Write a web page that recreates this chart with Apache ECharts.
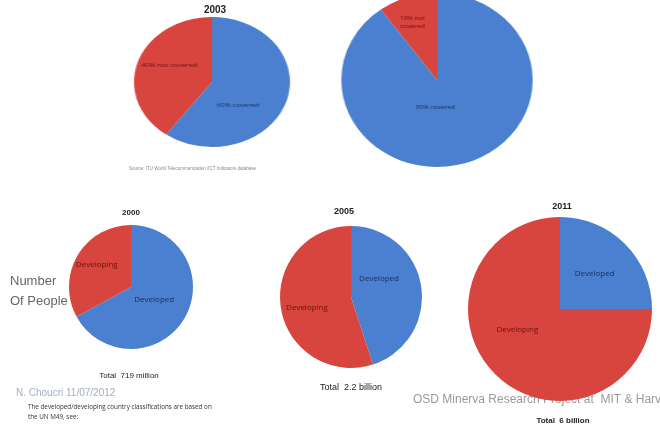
<!DOCTYPE html>
<html>
<head>
<meta charset="utf-8">
<script src="https://cdn.jsdelivr.net/npm/echarts@6/dist/echarts.min.js"></script>
<style>
html,body{margin:0;padding:0;background:#fff;}
#wrap{position:relative;width:660px;height:428px;overflow:hidden;}
#chart{position:absolute;left:0;top:0;width:660px;height:428px;}
.over{position:absolute;left:0;top:0;width:660px;height:428px;pointer-events:none;}
</style>
</head>
<body>
<div id="wrap">
<div id="chart"></div>
<div id="topA" class="over"></div>
<div id="topB" class="over"></div>
</div>
<script>
// ---- data ----
const coverageCategories = ['covered', 'not covered'];
const coverage2003A = [60, 40];          // % of people covered (left top pie)
const coverage2003B = [90, 10];          // % of people covered (right top pie)
const userCategories = ['Developed', 'Developing'];
const years = ['2000', '2005', '2011'];
const users2000 = [482, 237];            // millions
const users2005 = [990, 1210];           // millions
const users2011 = [1500, 4500];          // millions
const totalLabels = ['Total  719 million', 'Total  2.2 billion', 'Total  6 billion'];
const topTitle = '2003';

// ---- styles ----
const BLUE = '#4b80d0';
const RED = '#d8443e';
const BLUE_TXT = '#16305c';
const RED_TXT = '#6a1212';
const FONT = 'Open Sans, Liberation Sans, sans-serif';

function coverageData(vals, breakLine) {
  return vals.map((v, i) => ({
    name: coverageCategories[i],
    value: v,
    itemStyle: { color: i === 0 ? BLUE : RED },
    label: {
      color: i === 0 ? BLUE_TXT : RED_TXT,
      formatter: v + '% ' + (breakLine && i === 1 ? 'not\ncovered' : coverageCategories[i])
    }
  }));
}
function usersData(vals) {
  return vals.map((v, i) => ({
    name: userCategories[i],
    value: v,
    itemStyle: { color: i === 0 ? BLUE : RED },
    label: { color: i === 0 ? BLUE_TXT : RED_TXT }
  }));
}

function makePie(data, L) {
  return {
    type: 'pie',
    center: L.center,
    radius: [0, L.r],
    startAngle: 90,
    clockwise: true,
    animation: false,
    silent: true,
    avoidLabelOverlap: false,
    label: {
      show: true,
      position: 'inside',
      fontSize: L.fs,
      fontFamily: FONT,
      lineHeight: L.fs + 2
    },
    labelLine: { show: false },
    labelLayout: function (p) {
      const o = L.off[p.dataIndex];
      return { dx: o[0], dy: o[1] };
    },
    itemStyle: { borderWidth: 0 },
    data: data
  };
}

// layout (style only); top pies are stretched horizontally via CSS like the slide
const layoutA = { center: [212, 82], r: 65, fs: 6, sx: 1.2, off: [[-12, 12], [-2, -6]] };
const layoutB = { center: [437, 80], r: 87, fs: 6, sx: 1.1, off: [[-16, -17], [-8, -13]] };
const bottomLayouts = [
  { center: [131, 287], r: 62, fs: 8, off: [[-6, -5], [-5, -5]] },
  { center: [351, 297], r: 71, fs: 8, off: [[-10, -12], [-6, 5]] },
  { center: [560, 309], r: 92, fs: 8, off: [[0, -1], [-8, -14]] }
];
const bottomData = [usersData(users2000), usersData(users2005), usersData(users2011)];

const titleX = [131, 344, 562];
const titleY = [213, 212, 207];
const titleFs = [8, 9, 9];
const totalX = [129, 351, 563];
const totalY = [376, 388, 421];
const totalFs = [8, 9, 8];

const graphics = [
  { type: 'text', x: 215, y: 10, style: { text: topTitle, font: 'bold 10px Liberation Sans, sans-serif', fill: '#222', textAlign: 'center', textVerticalAlign: 'middle' } },
  { type: 'text', left: 129, top: 166, style: { text: 'Source: ITU World Telecommunication /ICT Indicators database', font: '4.5px Liberation Sans, sans-serif', fill: '#888' } },
  { type: 'text', left: 10, top: 275, style: { text: 'Number', font: '13px Liberation Sans, sans-serif', fill: '#666' } },
  { type: 'text', left: 10, top: 295, style: { text: 'Of People', font: '13px Liberation Sans, sans-serif', fill: '#666' } },
  { type: 'text', left: 16, top: 388, style: { text: 'N. Choucri 11/07/2012', font: '10px Liberation Sans, sans-serif', fill: '#a3adc0' } },
  { type: 'text', left: 28, top: 404, style: { text: 'The developed/developing country classifications are based on', font: '6.3px Open Sans, sans-serif', fill: '#333' } },
  { type: 'text', left: 28, top: 414, style: { text: 'the UN M49, see:', font: '6.3px Open Sans, sans-serif', fill: '#333' } },
  { type: 'text', left: 413, top: 394, style: { text: 'OSD Minerva Research Project at  MIT & Harvard', font: '12px Liberation Sans, sans-serif', fill: '#9a9a9a' } }
];
years.forEach((y, i) => {
  graphics.push({ type: 'text', x: titleX[i], y: titleY[i], style: { text: y, font: 'bold ' + titleFs[i] + 'px Liberation Sans, sans-serif', fill: '#222', textAlign: 'center', textVerticalAlign: 'middle' } });
  graphics.push({ type: 'text', x: totalX[i], y: totalY[i], style: { text: totalLabels[i], font: (i === 2 ? 'bold ' : '') + totalFs[i] + 'px Liberation Sans, sans-serif', fill: '#222', textAlign: 'center', textVerticalAlign: 'middle' } });
});

const chart = echarts.init(document.getElementById('chart'), null, { renderer: 'canvas' });
chart.setOption({
  backgroundColor: '#ffffff',
  animation: false,
  series: bottomData.map((d, k) => makePie(d, bottomLayouts[k])),
  graphic: graphics
});

function topChart(id, data, L) {
  const el = document.getElementById(id);
  el.style.transformOrigin = L.center[0] + 'px ' + L.center[1] + 'px';
  el.style.transform = 'scaleX(' + L.sx + ')';
  const c = echarts.init(el, null, { renderer: 'canvas' });
  c.setOption({ animation: false, series: [makePie(data, L)] });
}
topChart('topA', coverageData(coverage2003A, false), layoutA);
topChart('topB', coverageData(coverage2003B, true), layoutB);
</script>
</body>
</html>
